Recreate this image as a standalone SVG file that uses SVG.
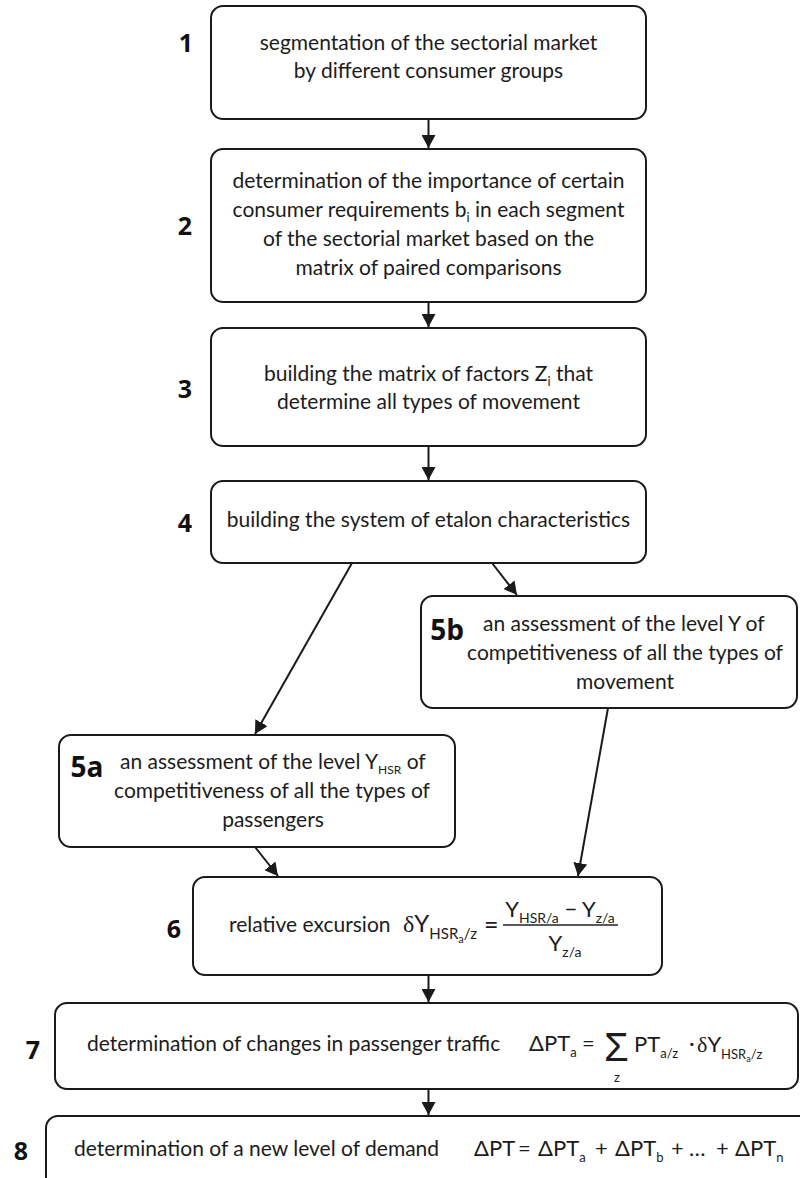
<svg xmlns="http://www.w3.org/2000/svg" width="800" height="1178" viewBox="0 0 800 1178">
<defs>
<marker id="ah" markerUnits="userSpaceOnUse" markerWidth="14" markerHeight="14" refX="13" refY="7" orient="auto">
<path d="M0,0 L13,7 L0,14 z" fill="#1a1a1a"/>
</marker>
<style>
.box{fill:#fff;stroke:#1a1a1a;stroke-width:2}
.t{font-family:Lato,"Open Sans","Liberation Sans",sans-serif;font-size:21px;fill:#1c1c1c}
.c{text-anchor:middle}
.lbl{font-family:"Open Sans","Liberation Sans",sans-serif;font-size:25px;font-weight:bold;fill:#111;text-anchor:middle}
.m{font-family:Lato,"Liberation Sans",sans-serif;font-size:22px;fill:#1c1c1c}
.g{font-family:"Liberation Serif",serif}
.conn{stroke:#1a1a1a;stroke-width:2;fill:none;marker-end:url(#ah)}
</style>
</defs>
<rect width="800" height="1178" fill="#fff"/>
<g id="connectors">
<line class="conn" x1="428.5" y1="119" x2="428.5" y2="148"/>
<line class="conn" x1="428.5" y1="302" x2="428.5" y2="327"/>
<line class="conn" x1="428.5" y1="446" x2="428.5" y2="480"/>
<line class="conn" x1="352" y1="563" x2="255" y2="734"/>
<line class="conn" x1="492" y1="563" x2="517" y2="595"/>
<line class="conn" x1="255" y1="847" x2="278" y2="876"/>
<line class="conn" x1="608" y1="708" x2="578" y2="876"/>
<line class="conn" x1="428.5" y1="975" x2="428.5" y2="1002"/>
<line class="conn" x1="428.5" y1="1089" x2="428.5" y2="1115"/>
</g>
<g id="n1">
<rect class="box" x="211" y="6" width="435" height="113" rx="12"/>
<text class="lbl" x="186" y="52">1</text>
<text class="t c" x="428.5" y="50">segmentation of the sectorial market</text>
<text class="t c" x="428.5" y="78">by different consumer groups</text>
</g>
<g id="n2">
<rect class="box" x="211" y="149" width="435" height="153" rx="12"/>
<text class="lbl" x="185" y="235">2</text>
<text class="t c" x="428.5" y="188">determination of the importance of certain</text>
<text class="t c" x="428.5" y="217">consumer requirements b<tspan style="font-size:13px" dy="5">i</tspan><tspan dy="-5"> in each segment</tspan></text>
<text class="t c" x="428.5" y="246">of the sectorial market based on the</text>
<text class="t c" x="428.5" y="275">matrix of paired comparisons</text>
</g>
<g id="n3">
<rect class="box" x="211" y="328" width="435" height="118" rx="12"/>
<text class="lbl" x="185" y="398">3</text>
<text class="t c" x="428.5" y="381">building the matrix of factors Z<tspan style="font-size:13px" dy="5">i</tspan><tspan dy="-5"> that</tspan></text>
<text class="t c" x="428.5" y="409">determine all types of movement</text>
</g>
<g id="n4">
<rect class="box" x="211" y="481" width="435" height="82" rx="12"/>
<text class="lbl" x="185" y="532">4</text>
<text class="t c" x="428.5" y="527">building the system of etalon characteristics</text>
</g>
<g id="n5b">
<rect class="box" x="421" y="596" width="376" height="112" rx="12"/>
<text class="lbl" x="447" y="640" style="font-size:28px">5b</text>
<text class="t" x="483" y="631">an assessment of the level Y of</text>
<text class="t c" x="625" y="660">competitiveness of all the types of</text>
<text class="t c" x="625" y="689">movement</text>
</g>
<g id="n5a">
<rect class="box" x="59" y="735" width="396" height="112" rx="12"/>
<text class="lbl" x="87" y="777" style="font-size:28px">5a</text>
<text class="t" x="120" y="769">an assessment of the level Y<tspan style="font-size:12px" dy="5">HSR</tspan><tspan dy="-5"> of</tspan></text>
<text class="t c" x="272" y="798">competitiveness of all the types of</text>
<text class="t c" x="273" y="827">passengers</text>
</g>
<g id="n6">
<rect class="box" x="193" y="877" width="469" height="98" rx="12"/>
<text class="lbl" x="174" y="938">6</text>
<text class="t" x="229" y="932">relative excursion</text>
<text class="m" x="403" y="932" style="font-size:24px"><tspan class="g">δ</tspan>Y<tspan style="font-size:15px" dy="7">HSR</tspan><tspan style="font-size:11px" dy="4">a</tspan><tspan style="font-size:15px" dy="-4">/z</tspan></text>
<text class="m" x="484" y="934" style="font-size:25px">=</text>
<line x1="503" y1="925" x2="618" y2="925" stroke="#222" stroke-width="1.5"/>
<text class="m c" x="560" y="917">Y<tspan style="font-size:14px" dy="6">HSR/a</tspan><tspan dy="-6"> − Y</tspan><tspan style="font-size:14px" dy="6">z/a</tspan></text>
<text class="m c" x="565" y="951">Y<tspan style="font-size:14px" dy="6">z/a</tspan></text>
</g>
<g id="n7">
<rect class="box" x="55" y="1003" width="743" height="86" rx="12"/>
<text class="lbl" x="33" y="1059">7</text>
<text class="t" x="87" y="1051">determination of changes in passenger traffic</text>
<text class="m" x="529" y="1051">ΔPT<tspan style="font-size:13px" dy="6">a</tspan></text>
<text class="m" x="582" y="1051">=</text>
<text class="m" x="604" y="1061" style="font-size:40px;font-family:'Liberation Sans',sans-serif">Σ</text>
<text class="m" x="614" y="1082" style="font-size:13px">z</text>
<text class="m" x="634" y="1052">PT<tspan style="font-size:13px" dy="6">a/z</tspan></text>
<text class="m" x="689" y="1051">·</text>
<text class="m" x="697" y="1052"><tspan class="g">δ</tspan>Y<tspan style="font-size:13px" dy="7">HSR</tspan><tspan style="font-size:9px" dy="3">a</tspan><tspan style="font-size:13px" dy="-3">/z</tspan></text>
</g>
<g id="n8">
<rect class="box" x="46" y="1116" width="780" height="100" rx="12"/>
<text class="lbl" x="21" y="1160">8</text>
<text class="t" x="74" y="1156">determination of a new level of demand</text>
<text class="m" x="474" y="1156">ΔPT</text>
<text class="m" x="518" y="1156">=</text>
<text class="m" x="538" y="1156">ΔPT<tspan style="font-size:13px" dy="6">a</tspan></text>
<text class="m" x="595" y="1156">+</text>
<text class="m" x="615" y="1156">ΔPT<tspan style="font-size:13px" dy="6">b</tspan></text>
<text class="m" x="671" y="1156">+</text>
<text class="m" x="689" y="1156">…</text>
<text class="m" x="716" y="1156">+</text>
<text class="m" x="735" y="1156">ΔPT<tspan style="font-size:13px" dy="6">n</tspan></text>
</g>
</svg>
